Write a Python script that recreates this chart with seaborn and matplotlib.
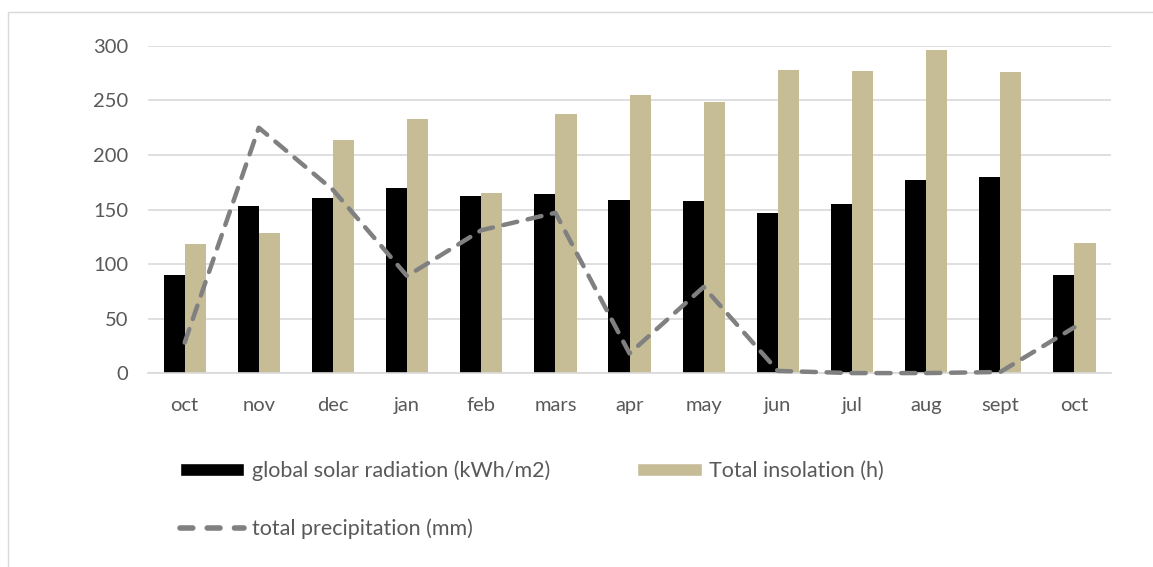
import numpy as np
import pandas as pd
import seaborn as sns
import matplotlib.pyplot as plt
from matplotlib.patches import Patch, Rectangle
from matplotlib.lines import Line2D

# 数据
months = ['oct', 'nov', 'dec', 'jan', 'feb', 'mars', 'apr', 'may', 'jun', 'jul', 'aug', 'sept', 'oct']
radiation = [90, 153, 161, 170, 162, 164, 159, 158, 147, 155, 177, 180, 90]
insolation = [118, 128, 214, 233, 165, 238, 255, 249, 278, 277, 296, 276, 119]
precipitation = [28, 225, 168, 89, 131, 147, 18, 79, 2, 0, 0, 1, 42]

rad_label = 'global solar radiation (kWh/m2)'
ins_label = 'Total insolation (h)'
pre_label = 'total precipitation (mm)'

sns.set_style('white')
plt.rcParams['font.family'] = ['Lato', 'DejaVu Sans']

idx = list(range(len(months)))
bars = pd.DataFrame({
    'idx': idx * 2,
    'value': radiation + insolation,
    'series': [rad_label] * len(months) + [ins_label] * len(months),
})
line = pd.DataFrame({'idx': idx, 'value': precipitation})

fig = plt.figure(figsize=(11.53, 5.67), dpi=100)
ax = fig.add_axes([0.128, 0.342, 0.836, 0.577])

colors = {rad_label: '#000000', ins_label: '#c6bd97'}
sns.barplot(data=bars, x='idx', y='value', hue='series', palette=colors,
            width=0.57, gap=0, ax=ax, legend=False, saturation=1, zorder=2,
            linewidth=0, edgecolor='none')
sns.lineplot(data=line, x='idx', y='value', color='#808080', lw=3.2,
             ax=ax, legend=False, zorder=3)
ax.lines[-1].set_dashes((3.2, 2.4))
ax.lines[-1].set_dash_capstyle('round')
ax.lines[-1].set_clip_on(False)

ax.set_xlim(-0.5, 12.5)
ax.set_ylim(0, 300)
ax.set_yticks(range(0, 301, 50))
ax.set_xticks(idx)
ax.set_xticklabels(months)
ax.set_xlabel('')
ax.set_ylabel('')
ax.grid(axis='y', color='#d9d9d9', lw=1.2, zorder=0)
ax.set_axisbelow(True)
for s in ['left', 'right', 'top']:
    ax.spines[s].set_visible(False)
ax.spines['bottom'].set_color('#d9d9d9')
ax.spines['bottom'].set_linewidth(1.2)
ax.tick_params(axis='both', length=0, labelsize=14.5, labelcolor='#595959')
ax.tick_params(axis='x', pad=17)
ax.tick_params(axis='y', pad=14)

# 图例
handles = [
    Patch(facecolor='#000000', label=rad_label),
    Line2D([0], [0], color='#808080', lw=4, dashes=(2.3, 2.6), dash_capstyle='round', label=pre_label),
    Patch(facecolor='#c6bd97', label=ins_label),
]
fig.legend(handles=handles, ncol=2, loc='upper left', bbox_to_anchor=(0.139, 0.222),
           frameon=False, fontsize=15.5, labelcolor='#595959', handlelength=3.0,
           handleheight=0.6, handletextpad=0.35, columnspacing=4.05, labelspacing=1.72)

# 外框
fig.patches.append(Rectangle((8 / 1153, -0.1), 1.2, 1 - 12 / 567 + 0.1, transform=fig.transFigure,
                             fill=False, edgecolor='#d9d9d9', lw=1))

fig.savefig('out.png', dpi=100)
